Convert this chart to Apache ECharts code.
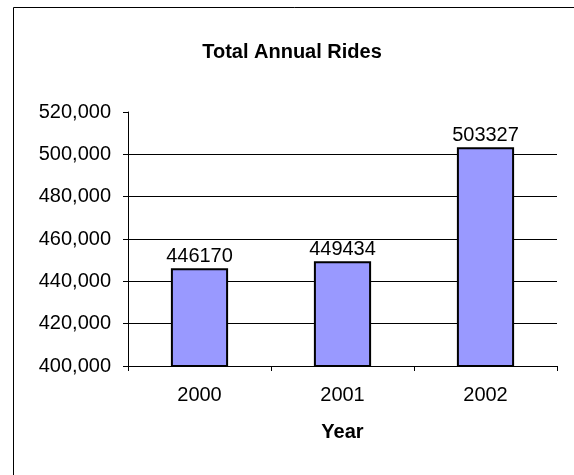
<!DOCTYPE html>
<html>
<head>
<meta charset="utf-8">
<script src="https://cdn.jsdelivr.net/npm/echarts@6/dist/echarts.min.js"></script>
<style>
  html, body { margin: 0; padding: 0; background: #fff; }
  #chart { width: 574px; height: 475px; }
</style>
</head>
<body>
<div id="chart"></div>
<script>
// Annual ride totals per year
const years = ['2000', '2001', '2002'];
const rides = [446170, 449434, 503327];
const yTicks = { min: 400000, max: 520000, step: 20000 };

const FONT = '"Liberation Sans", Arial, sans-serif';
const chart = echarts.init(document.getElementById('chart'), null, { renderer: 'canvas' });

// gridlines: hide the one at the top of the axis
const lineCount = (yTicks.max - yTicks.min) / yTicks.step + 1;
const gridColors = [];
for (let i = 0; i < lineCount; i++) gridColors.push(i === lineCount - 1 ? 'rgba(0,0,0,0)' : '#000');

chart.setOption({
  animation: false,
  backgroundColor: '#fff',
  textStyle: { fontFamily: FONT },
  title: {
    text: 'Total Annual Rides',
    left: 287, top: 37, textAlign: 'center',
    textStyle: { fontFamily: FONT, fontSize: 20, fontWeight: 'bold', color: '#000' }
  },
  graphic: [{
    type: 'rect', silent: true,
    shape: { x: 13.5, y: 7.5, width: 700, height: 700 },
    style: { fill: null, stroke: '#000', lineWidth: 1 }
  }],
  grid: { left: 128, right: 17, top: 112, bottom: 109, containLabel: false },
  xAxis: {
    type: 'category',
    data: years,
    name: 'Year',
    nameLocation: 'middle',
    nameGap: 56,
    nameTextStyle: { fontFamily: FONT, fontSize: 20, fontWeight: 'bold', color: '#000' },
    axisLine: { lineStyle: { color: '#000', width: 1 } },
    axisTick: { show: true, alignWithLabel: false, length: 5, lineStyle: { color: '#000' } },
    axisLabel: { color: '#000', fontSize: 20, fontFamily: FONT, margin: 19 },
    splitLine: { show: false }
  },
  yAxis: {
    type: 'value',
    min: yTicks.min, max: yTicks.max, interval: yTicks.step,
    axisLine: { show: true, lineStyle: { color: '#000', width: 1 } },
    axisTick: { show: true, length: 5, lineStyle: { color: '#000' } },
    axisLabel: {
      color: '#000', fontSize: 20, fontFamily: FONT, margin: 17,
      formatter: v => v.toLocaleString('en-US')
    },
    splitLine: { show: true, lineStyle: { color: gridColors, width: 1 } }
  },
  series: [{
    type: 'bar',
    data: rides,
    barWidth: '40%',
    itemStyle: { color: '#9999FF', borderColor: '#000', borderWidth: 2 },
    label: {
      show: true, position: 'top', distance: 2,
      color: '#000', fontSize: 20, fontFamily: FONT
    }
  }]
});
</script>
</body>
</html>
